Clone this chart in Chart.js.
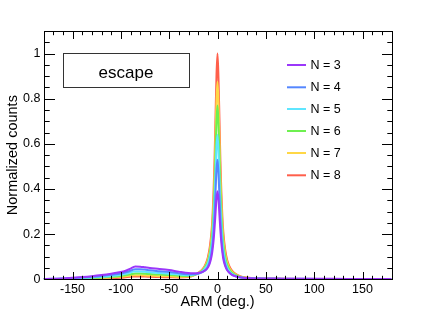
<!DOCTYPE html>
<html><head><meta charset="utf-8">
<script src="https://cdn.jsdelivr.net/npm/chart.js@4.4.1/dist/chart.umd.min.js"></script>
<style>html,body{margin:0;padding:0;background:#fff;}#wrap{width:436px;height:311px;}</style>
</head><body><div id="wrap"><canvas id="c" width="436" height="311"></canvas></div>
<script>
const xs = [-180,-170,-160,-150,-140,-130,-120,-110,-100,-95,-90,-87,-85,-80,-75,-70,-60,-50,-40,-30,-25,-20,-15,-12,-10,-8,-6,-5,-4,-3,-2,-1,0,1,2,3,4,5,6,8,10,12,15,20,25,30,40,60,90,120,150,180];
const n3 = [0.001,0.002,0.004,0.007,0.010,0.014,0.019,0.025,0.032,0.038,0.047,0.054,0.057,0.056,0.053,0.050,0.046,0.041,0.034,0.028,0.027,0.028,0.034,0.042,0.052,0.070,0.105,0.135,0.175,0.230,0.295,0.360,0.390,0.355,0.285,0.215,0.160,0.120,0.090,0.058,0.040,0.030,0.020,0.012,0.008,0.006,0.004,0.003,0.002,0.002,0.001,0.001];
const n4 = [0.001,0.002,0.003,0.005,0.008,0.011,0.015,0.020,0.026,0.031,0.038,0.043,0.045,0.045,0.043,0.040,0.036,0.032,0.027,0.022,0.022,0.025,0.033,0.042,0.055,0.080,0.125,0.160,0.215,0.290,0.390,0.490,0.530,0.470,0.370,0.270,0.195,0.140,0.105,0.065,0.043,0.031,0.020,0.011,0.007,0.005,0.003,0.002,0.002,0.001,0.001,0.001];
const n5 = [0.001,0.001,0.002,0.004,0.006,0.008,0.011,0.015,0.020,0.024,0.030,0.034,0.035,0.035,0.033,0.031,0.028,0.025,0.021,0.018,0.020,0.026,0.038,0.054,0.070,0.100,0.152,0.196,0.265,0.355,0.475,0.590,0.640,0.570,0.450,0.330,0.240,0.175,0.130,0.080,0.053,0.038,0.024,0.013,0.008,0.005,0.003,0.002,0.001,0.001,0.001,0.001];
const n6 = [0.000,0.001,0.001,0.002,0.004,0.006,0.008,0.011,0.015,0.018,0.022,0.025,0.026,0.026,0.025,0.023,0.021,0.019,0.016,0.015,0.018,0.026,0.041,0.060,0.079,0.114,0.175,0.230,0.310,0.420,0.565,0.705,0.770,0.690,0.550,0.400,0.290,0.210,0.157,0.097,0.064,0.046,0.029,0.016,0.009,0.006,0.003,0.002,0.001,0.001,0.001,0.000];
const n7 = [0.000,0.001,0.001,0.002,0.003,0.004,0.006,0.008,0.011,0.013,0.016,0.018,0.018,0.018,0.017,0.016,0.014,0.013,0.011,0.012,0.017,0.027,0.044,0.065,0.087,0.126,0.196,0.260,0.350,0.475,0.640,0.800,0.875,0.785,0.625,0.460,0.335,0.245,0.183,0.113,0.075,0.053,0.034,0.018,0.010,0.007,0.003,0.002,0.001,0.001,0.000,0.000];
const n8 = [0.000,0.000,0.001,0.001,0.002,0.003,0.004,0.005,0.007,0.009,0.011,0.012,0.012,0.012,0.012,0.011,0.010,0.009,0.008,0.010,0.016,0.028,0.047,0.071,0.097,0.142,0.222,0.295,0.400,0.540,0.730,0.910,1.000,0.895,0.715,0.525,0.385,0.280,0.210,0.130,0.086,0.061,0.039,0.021,0.012,0.008,0.004,0.002,0.001,0.001,0.000,0.000];
const seriesLabels = ['N = 3','N = 4','N = 5','N = 6','N = 7','N = 8'];
const seriesValues = [n3,n4,n5,n6,n7,n8];
const seriesColors = ['rgb(155,55,250)','rgb(85,135,255)','rgb(95,230,255)','rgb(110,240,80)','rgb(255,215,70)','rgb(255,95,75)'];
const xTicks = [-150,-100,-50,0,50,100,150];
const yTicks = [0,0.2,0.4,0.6,0.8,1];
const xTitle = 'ARM (deg.)';
const yTitle = 'Normalized counts';
const boxText = 'escape';

const FONT = '"Liberation Sans", Arial, Helvetica, sans-serif';

const datasets = seriesValues.map((vals,i)=>({
  label: seriesLabels[i],
  data: xs.map((x,j)=>({x:x,y:vals[j]})),
  borderColor: seriesColors[i],
  backgroundColor: seriesColors[i],
  borderWidth: 2,
  pointRadius: 0,
  fill: false,
  cubicInterpolationMode: 'monotone'
}));

const decor = {
  id:'decor',
  afterDraw(chart){
    const ctx = chart.ctx, a = chart.chartArea, sx = chart.scales.x, sy = chart.scales.y;
    ctx.save();
    ctx.strokeStyle = '#000'; ctx.lineWidth = 1;
    const L = Math.round(a.left)+0.5, R = Math.round(a.right)+0.5, T = Math.round(a.top)+0.5, B = Math.round(a.bottom)+0.5;
    ctx.beginPath();
    for (let v=-180; v<=180; v+=10){
      const px = Math.round(sx.getPixelForValue(v))+0.5;
      const len = (v%50===0)?7.5:3.7;
      ctx.moveTo(px,B); ctx.lineTo(px,B-len);
      ctx.moveTo(px,T); ctx.lineTo(px,T+len);
    }
    for (let k=0; k<=22; k++){
      const v = k*0.05;
      const py = Math.round(sy.getPixelForValue(v))+0.5;
      const len = (k%4===0)?10.5:5.2;
      ctx.moveTo(L,py); ctx.lineTo(L+len,py);
      ctx.moveTo(R,py); ctx.lineTo(R-len,py);
    }
    ctx.stroke();
    ctx.strokeRect(L,T,R-L,B-T);
    ctx.strokeStyle = '#333';
    ctx.strokeRect(63.5,53.5,126,34);
    ctx.fillStyle = '#000';
    ctx.font = '17px '+FONT;
    ctx.textAlign = 'center'; ctx.textBaseline = 'alphabetic';
    ctx.fillText(boxText,126,77.5);
    ctx.font = '12.5px '+FONT;
    ctx.textAlign = 'left'; ctx.textBaseline = 'middle';
    const rows = [65,87.3,109,131,153,175.3];
    seriesLabels.forEach((lab,i)=>{
      ctx.strokeStyle = seriesColors[i]; ctx.lineWidth = 2;
      ctx.beginPath(); ctx.moveTo(287,rows[i]); ctx.lineTo(306,rows[i]); ctx.stroke();
      ctx.fillStyle = '#000';
      ctx.fillText(lab,310.5,rows[i]+0.5);
    });
    ctx.font = '14.5px '+FONT;
    ctx.textAlign = 'center'; ctx.textBaseline = 'alphabetic';
    ctx.fillText(xTitle,(a.left+a.right)/2,306);
    ctx.save();
    ctx.translate(17,(a.top+a.bottom)/2);
    ctx.rotate(-Math.PI/2);
    ctx.fillText(yTitle,0,0);
    ctx.restore();
    ctx.restore();
  }
};

new Chart(document.getElementById('c'),{
  type:'line',
  data:{datasets},
  options:{
    responsive:false,
    animation:false,
    layout:{padding:{left:0,top:31,right:44.5,bottom:0}},
    plugins:{legend:{display:false},tooltip:{enabled:false},title:{display:false}},
    scales:{
      x:{type:'linear',min:-180,max:180,
        grid:{display:false,drawTicks:false},border:{display:false},
        afterFit:s=>{s.height=31.7;},
        afterBuildTicks:s=>{s.ticks=xTicks.map(v=>({value:v}));},
        ticks:{padding:3,color:'#000',font:{family:FONT,size:12.5},maxRotation:0,autoSkip:false,
          callback:v=>String(v)}},
      y:{type:'linear',min:0,max:1.1,
        grid:{display:false,drawTicks:false},border:{display:false},
        afterFit:s=>{s.width=43.5;},
        afterBuildTicks:s=>{s.ticks=yTicks.map(v=>({value:v}));},
        ticks:{padding:3,color:'#000',font:{family:FONT,size:12.5},autoSkip:false,
          callback:v=>String(Math.round(v*10)/10)}}
    }
  },
  plugins:[decor]
});
</script></body></html>
